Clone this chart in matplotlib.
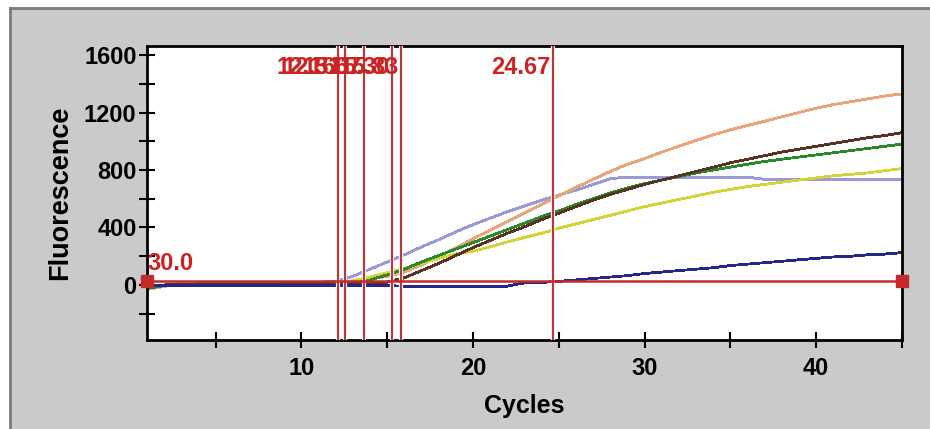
import numpy as np
import matplotlib
matplotlib.use('Agg')
import matplotlib.pyplot as plt
from matplotlib.patches import Rectangle
from matplotlib.lines import Line2D
from matplotlib.ticker import MultipleLocator

plt.rcParams['font.family'] = ['Liberation Sans', 'DejaVu Sans']
plt.rcParams['font.weight'] = 'bold'

# amplification curves, one value per cycle
cycles = np.arange(1, 46)
lavender = [-20, 0, 10, 15, 15, 15, 18, 18, 18, 20, 20, 25, 60, 110, 160,
            210, 265, 315, 370, 420, 465, 510, 550, 590, 625, 660, 700, 740, 750, 750,
            750, 750, 750, 750, 750, 750, 735, 735, 735, 735, 735, 735, 735, 735, 735]
orange = [-30, -10, 10, 10, 10, 10, 10, 10, 10, 10, 10, 10, 25, 40, 60,
          90, 140, 200, 260, 320, 380, 440, 500, 560, 620, 680, 735, 790, 840, 880,
          925, 965, 1005, 1045, 1080, 1110, 1140, 1170, 1200, 1230, 1255, 1275, 1295, 1315, 1330]
brown = [-10, 0, 5, 5, 5, 5, 5, 5, 8, 8, 8, 8, 10, 10, 20,
         50, 100, 150, 205, 260, 310, 360, 405, 455, 500, 545, 590, 630, 665, 700,
         730, 760, 790, 820, 850, 875, 900, 925, 945, 965, 985, 1005, 1025, 1040, 1060]
green = [-25, -5, 5, 8, 8, 8, 8, 10, 10, 10, 10, 10, 12, 35, 70,
         110, 160, 205, 250, 295, 340, 385, 430, 475, 515, 560, 600, 640, 675, 705,
         730, 755, 780, 800, 820, 840, 860, 875, 890, 905, 920, 935, 950, 965, 980]
yellow = [-15, 0, 8, 10, 10, 10, 10, 10, 10, 10, 10, 12, 30, 55, 85,
          115, 150, 185, 215, 235, 265, 300, 330, 360, 395, 425, 455, 485, 515, 545,
          570, 595, 620, 645, 665, 685, 700, 715, 730, 745, 760, 770, 780, 795, 810]
navy = [-5, -5, -5, -5, -5, -5, -5, -5, -5, -5, -5, -5, -5, -5, -5,
        -8, -8, -8, -8, -8, -8, -8, 15, 18, 25, 35, 45, 55, 65, 80,
        90, 100, 110, 120, 135, 145, 155, 165, 175, 185, 195, 200, 210, 215, 225]

curves = [(lavender, '#9a9ad8'), (orange, '#e9a47a'), (yellow, '#d4d43a'),
          (green, '#2a8a2a'), (brown, '#5a3222'), (navy, '#26268a')]

threshold = 30.0
ct_values = [12.16, 12.51, 13.67, 15.30, 15.83, 24.67]
x_range = (1, 45)

fig = plt.figure(figsize=(9.3, 4.29), dpi=100)
fig.patch.set_facecolor('white')
W, H = 930, 429
fig.patches.append(Rectangle((10 / W, 0), 1 - 10 / W, (H - 8) / H,
                             transform=fig.transFigure, facecolor='#cacaca',
                             edgecolor='none', zorder=-10))
fig.lines.append(Line2D([10 / W, 1], [(H - 8) / H] * 2, transform=fig.transFigure,
                        color='#7a7a7a', lw=2, zorder=-5))
fig.lines.append(Line2D([10 / W] * 2, [0, (H - 8) / H], transform=fig.transFigure,
                        color='#7a7a7a', lw=2, zorder=-5))

ax = fig.add_axes([147 / W, (H - 340) / H, (902 - 147) / W, (340 - 46) / H])
ax.set_facecolor('white')

for vals, col in curves:
    ax.plot(cycles, vals, color=col, lw=1.3, antialiased=False)

# threshold line with handles
ax.plot(x_range, [threshold, threshold], color='#c42a2a', lw=1.8,
        marker='s', markersize=9, clip_on=False, zorder=5)
ax.text(x_range[0] + 0.05, 146, '%.1f' % threshold, color='#cc2222',
        fontsize=17, fontweight='bold', ha='left', va='center')

# Ct lines
for ct in ct_values:
    ax.axvline(ct, color='#fdeaea', lw=3, zorder=3.5)
    ax.axvline(ct, color='#a82a2a', lw=1.3, zorder=4)
    ax.text(ct - 0.15, 1510, '%.2f' % ct, color='#cc2222', fontsize=17,
            fontweight='bold', ha='right', va='center', zorder=6)

ax.set_xlim(1, 45)
ax.set_ylim(-383, 1663)
ax.xaxis.set_major_locator(MultipleLocator(10))
ax.xaxis.set_minor_locator(MultipleLocator(5))
ax.yaxis.set_major_locator(MultipleLocator(400))
ax.yaxis.set_minor_locator(MultipleLocator(200))
ax.tick_params(which='both', direction='inout', length=11, width=1.5,
               labelsize=17, color='black')
ax.tick_params(axis='x', pad=7)
ax.tick_params(axis='y', pad=2)
for lab in ax.get_xticklabels() + ax.get_yticklabels():
    lab.set_fontweight('bold')
for s in ax.spines.values():
    s.set_linewidth(2)
    s.set_color('black')

ax.set_xlabel('Cycles', fontsize=18, fontweight='bold', labelpad=10)
ax.set_ylabel('Fluorescence', fontsize=19.5, fontweight='bold', labelpad=8)

fig.savefig('out.png', dpi=100)
